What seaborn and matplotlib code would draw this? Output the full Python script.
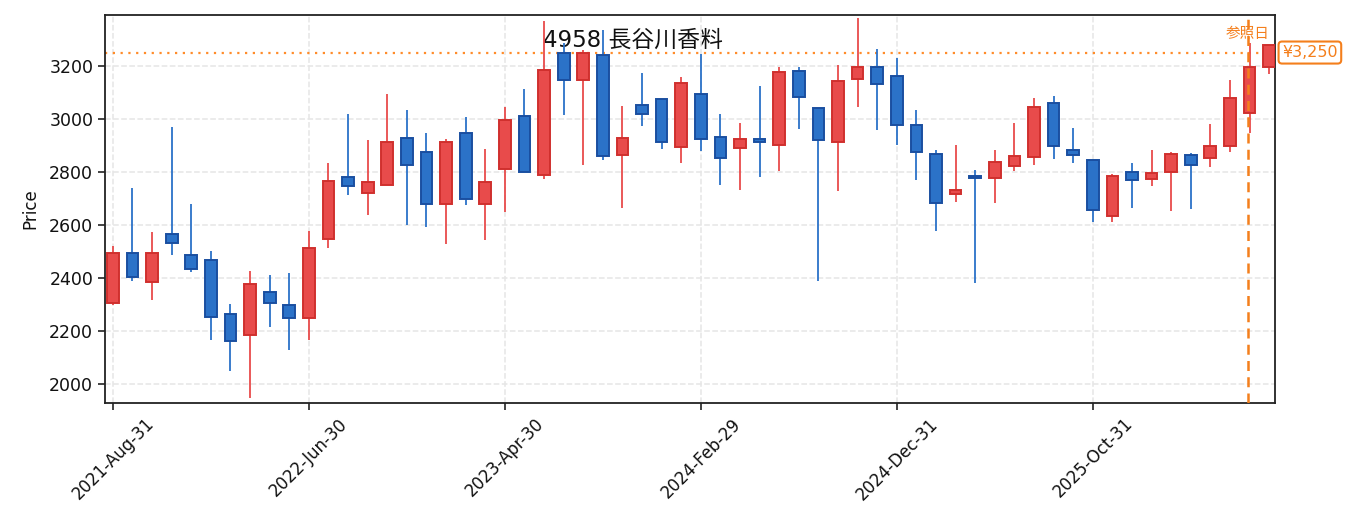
import numpy as np
import pandas as pd
import matplotlib
matplotlib.use("Agg")
import matplotlib.pyplot as plt
import seaborn as sns

# monthly OHLC (Aug 2021 .. Jul 2026)
opens = [2305, 2495, 2385, 2567, 2488, 2469, 2265, 2185, 2345, 2299,
         2249, 2547, 2779, 2720, 2750, 2926, 2873, 2678, 2945, 2678,
         2810, 3012, 2788, 3250, 3147, 3239, 2864, 3052, 3073, 2894,
         3095, 2933, 2891, 2922, 2902, 3182, 3039, 2912, 3151, 3197,
         3163, 2978, 2869, 2717, 2783, 2776, 2823, 2857, 3061, 2884,
         2846, 2634, 2801, 2774, 2800, 2865, 2852, 2898, 3021, 3197]
highs = [2520, 2738, 2574, 2970, 2679, 2502, 2302, 2426, 2410, 2418,
         2577, 2834, 3019, 2921, 3094, 3034, 2947, 2925, 3008, 2887,
         3045, 3113, 3370, 3285, 3260, 3336, 3049, 3172, 3073, 3158,
         3245, 3019, 2985, 3122, 3196, 3196, 3039, 3204, 3381, 3264,
         3230, 3033, 2882, 2902, 2808, 2883, 2985, 3079, 3087, 2966,
         2846, 2791, 2834, 2883, 2875, 2872, 2981, 3147, 3286, 3277]
lows = [2298, 2390, 2318, 2488, 2421, 2167, 2050, 1945, 2216, 2128,
        2167, 2511, 2713, 2638, 2750, 2600, 2590, 2528, 2676, 2541,
        2650, 2800, 2772, 3016, 2824, 2843, 2663, 2971, 2888, 2835,
        2880, 2752, 2730, 2779, 2805, 2963, 2390, 2726, 3046, 2956,
        2903, 2771, 2575, 2688, 2382, 2684, 2805, 2824, 2849, 2835,
        2612, 2609, 2665, 2748, 2654, 2661, 2820, 2874, 2946, 3170]
closes = [2495, 2403, 2495, 2532, 2435, 2254, 2162, 2375, 2306, 2249,
          2511, 2767, 2747, 2760, 2914, 2825, 2678, 2911, 2698, 2760,
          2994, 2800, 3186, 3147, 3250, 2860, 2926, 3019, 2913, 3135,
          2923, 2853, 2922, 2912, 3175, 3083, 2920, 3141, 3197, 3131,
          2977, 2875, 2683, 2733, 2775, 2837, 2858, 3046, 2898, 2864,
          2657, 2786, 2770, 2794, 2869, 2826, 2899, 3077, 3194, 3277]

tick_labels = ["2021-Aug-31", "2022-Jun-30", "2023-Apr-30",
               "2024-Feb-29", "2024-Dec-31", "2025-Oct-31"]

ref_price = 3250
ref_pos = 57.9
title = "4958 長谷川香料"

df = pd.DataFrame({"open": opens, "high": highs, "low": lows, "close": closes})
df["x"] = np.arange(len(df))
df["up"] = df["close"] >= df["open"]

sns.set_theme(style="ticks")
plt.rcParams["font.family"] = ["DejaVu Sans", "Noto Sans CJK JP"]
plt.rcParams.update({"text.color": "#111111", "axes.labelcolor": "#111111",
                     "xtick.labelcolor": "#111111", "ytick.labelcolor": "#111111"})

fig = plt.figure(figsize=(13.55, 5.32), dpi=100)
ax = fig.add_axes([0.0775, 0.2425, 0.8635, 0.7295])

up_fill, up_edge = "#e84b4b", "#d0302e"
dn_fill, dn_edge = "#2b72c8", "#1a4fa0"
orange = "#f47f1c"

for up, fill, edge in [(True, up_fill, up_edge), (False, dn_fill, dn_edge)]:
    d = df[df["up"] == up]
    ax.vlines(d["x"], d["low"], d["high"], color=fill, linewidth=1.3, zorder=2)
    body_lo = d[["open", "close"]].min(axis=1)
    body_h = (d["close"] - d["open"]).abs().clip(lower=4)
    ax.bar(d["x"], body_h, bottom=body_lo, width=0.6, color=fill,
           edgecolor=edge, linewidth=1.4, zorder=3)

# reference price / date
ax.axhline(ref_price, color="#ff8c2a", linestyle=(0, (1, 2.5)), linewidth=1.6, zorder=1)
ax.axvline(ref_pos, color=orange, linestyle=(0, (4, 2.5)), linewidth=1.8, zorder=4)
ax.text(ref_pos, 3292, "参照日", color=orange, fontsize=10.5,
        family=["Noto Sans CJK JP"], ha="center", va="bottom")
ax.text(1.006, ref_price, "¥3,250", transform=ax.get_yaxis_transform(),
        color=orange, fontsize=11.5, ha="left", va="center",
        bbox=dict(boxstyle="round,pad=0.22", fc="white", ec=orange, lw=1.5))

ax.text(0.374, 0.935, title, transform=ax.transAxes, fontsize=16.5,
        ha="left", va="center", zorder=0)

ax.set_xticks(df["x"][::10])
ax.set_xticklabels(tick_labels, rotation=45, ha="center")
ax.set_xlim(-0.4, 59.3)
ax.set_ylim(1928, 3392)
ax.set_yticks([2000, 2200, 2400, 2600, 2800, 3000, 3200])
ax.set_ylabel("Price", fontsize=12, labelpad=7)
ax.tick_params(labelsize=12, length=5, width=1.2, color="#222222")
ax.tick_params(axis="y", labelsize=12.5)
ax.grid(True, linestyle="--", color="#e6e6e6", linewidth=1.1)
ax.set_axisbelow(True)
for s in ax.spines.values():
    s.set_color("#222222")
    s.set_linewidth(1.3)

fig.savefig("out.png", dpi=100)
